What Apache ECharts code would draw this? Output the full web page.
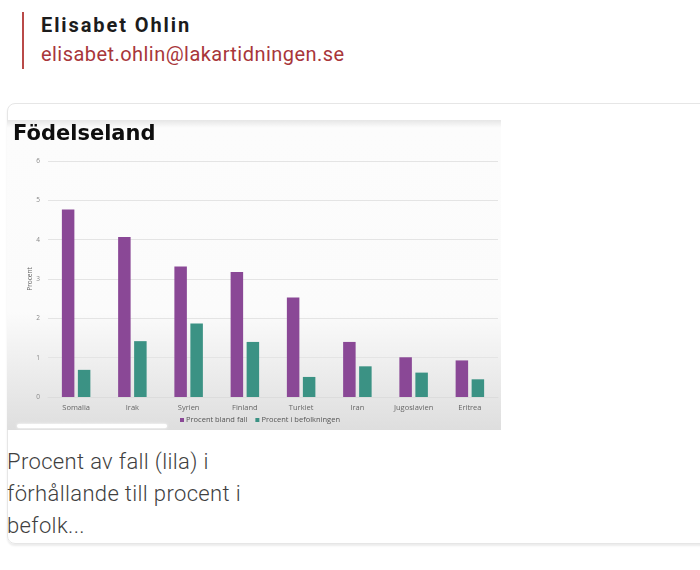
<!DOCTYPE html>
<html><head><meta charset="utf-8">
<script src="https://cdn.jsdelivr.net/npm/echarts@6/dist/echarts.min.js"></script>
<style>
html,body{margin:0;padding:0;width:700px;height:570px;overflow:hidden;background:#fff;font-family:Roboto,"Noto Sans",sans-serif;}
#bar{position:absolute;left:22px;top:12px;width:2px;height:57px;background:#b94a48;}
#name{position:absolute;left:41px;top:12px;font-size:20px;font-weight:700;color:#1c1c1c;letter-spacing:1.9px;line-height:26px;}
#mail{position:absolute;left:41px;top:42px;font-size:20px;color:#a8363a;line-height:24px;letter-spacing:0.45px;}
#card{position:absolute;left:7px;top:103px;width:720px;height:439px;border:1px solid #e6e6e6;border-radius:8px;box-shadow:0 2px 2px rgba(0,0,0,0.08);}
#chart{position:absolute;left:7px;top:120px;width:494px;height:310px;}
#cap{position:absolute;left:7px;top:446px;font-size:22px;font-weight:300;color:#3f3f3f;line-height:32px;letter-spacing:0.35px;}
</style></head>
<body>
<div id="bar"></div>
<div id="name">Elisabet Ohlin</div>
<div id="mail">elisabet.ohlin@lakartidningen.se</div>
<div id="card"></div>
<div id="chart"></div>
<div id="cap">Procent av fall (lila) i<br>förhållande till procent i<br>befolk...</div>
<script>
const categories = ["Somalia","Irak","Syrien","Finland","Turkiet","Iran","Jugoslavien","Eritrea"];
const procentBlandFall = [4.77, 4.07, 3.32, 3.18, 2.53, 1.40, 1.01, 0.93];
const procentIBefolkningen = [0.69, 1.42, 1.87, 1.40, 0.51, 0.78, 0.62, 0.45];
const yTicks = [0,1,2,3,4,5,6];

const chart = echarts.init(document.getElementById('chart'), null, {renderer:'canvas'});
chart.setOption({
  animation:false,
  backgroundColor:{type:'linear',x:0,y:0,x2:0,y2:1,colorStops:[
    {offset:0,color:'#e6e6e6'},{offset:0.025,color:'#fcfcfc'},{offset:0.62,color:'#fbfbfb'},{offset:1,color:'#dedede'}]},
  title:{text:'Födelseland',left:1,top:-1,textStyle:{fontFamily:'DejaVu Sans',fontWeight:'bold',fontSize:21,color:'#0e0e0e'}},
  legend:{bottom:1,left:168,itemWidth:4,itemHeight:4,itemGap:8,icon:'rect',
    textStyle:{fontSize:7.5,color:'#555',fontFamily:'Open Sans',padding:[0,0,0,-3]},
    data:['Procent bland fall','Procent i befolkningen']},
  grid:{left:41,right:3,top:41,bottom:33,containLabel:false},
  xAxis:{type:'category',data:categories,axisTick:{show:false},
    axisLine:{lineStyle:{color:'#dcdcdc'}},
    axisLabel:{fontSize:7.5,color:'#666',margin:7,fontFamily:'Open Sans'}},
  yAxis:{type:'value',min:yTicks[0],max:yTicks[yTicks.length-1],interval:1,
    name:'Procent',nameLocation:'middle',nameGap:14,nameRotate:90,nameMoveOverlap:false,
    nameTextStyle:{fontSize:6.5,color:'#666',fontFamily:'Open Sans'},
    axisLabel:{fontSize:6.5,color:'#888',margin:8,fontFamily:'Open Sans'},
    splitLine:{lineStyle:{color:'#e4e4e4'}},axisLine:{show:false},axisTick:{show:false}},
  graphic:[{type:'rect',left:10,top:304,shape:{width:150,height:4,r:2},
    style:{fill:'#ffffff',shadowBlur:3,shadowColor:'#ffffff'},silent:true}],
  series:[
    {name:'Procent bland fall',type:'bar',data:procentBlandFall,barWidth:12.5,barGap:'28%',itemStyle:{color:'#8a4896'}},
    {name:'Procent i befolkningen',type:'bar',data:procentIBefolkningen,barWidth:12.5,itemStyle:{color:'#3b9284'}}
  ]
});
</script>
</body></html>
